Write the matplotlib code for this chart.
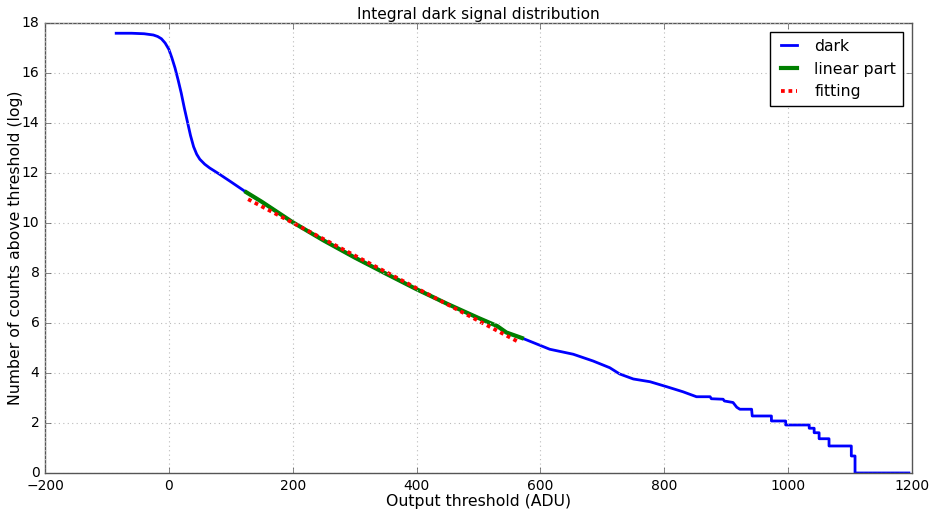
import matplotlib
matplotlib.use("Agg")
import matplotlib.pyplot as plt

# dark signal: threshold (ADU) vs log of counts above threshold
dark_x = [-85, -60, -40, -25, -18, -12, -6, 0, 5, 10, 15, 20, 25, 30, 35, 40,
          45, 50, 58, 66, 80, 100, 125, 150, 200, 250, 300, 350, 400, 450,
          500, 530, 545, 570, 600, 615, 653, 685, 712, 728, 750, 777, 804,
          830, 852, 874, 876, 895, 897, 911, 917, 922, 941, 942, 973, 973,
          996, 996, 1034, 1034, 1042, 1042, 1050, 1050, 1066, 1066, 1102,
          1102, 1108, 1108, 1195]
dark_y = [17.59, 17.59, 17.57, 17.52, 17.46, 17.37, 17.2, 16.95, 16.6, 16.2,
          15.72, 15.2, 14.6, 14.05, 13.5, 13.05, 12.75, 12.55, 12.35, 12.2,
          11.98, 11.65, 11.23, 10.85, 10.03, 9.3, 8.62, 7.98, 7.35, 6.76,
          6.2, 5.88, 5.62, 5.4, 5.1, 4.95, 4.75, 4.48, 4.21, 3.96, 3.76,
          3.65, 3.45, 3.25, 3.05, 3.05, 2.97, 2.95, 2.88, 2.82, 2.63, 2.55,
          2.55, 2.28, 2.28, 2.08, 2.08, 1.92, 1.92, 1.79, 1.79, 1.61, 1.61,
          1.37, 1.37, 1.08, 1.08, 0.68, 0.68, 0.0, 0.0]

# linear part of the dark curve
lin_x = [125, 150, 200, 250, 300, 350, 400, 450, 500, 530, 545, 570]
lin_y = [11.23, 10.85, 10.03, 9.3, 8.62, 7.98, 7.35, 6.76, 6.2, 5.88, 5.62, 5.4]

# straight line fit
fit_x = [128, 564]
fit_y = [10.95, 5.25]

plt.style.use("classic")
plt.rcParams["lines.scale_dashes"] = True
fig = plt.figure(figsize=(9.33, 5.11), dpi=100, facecolor="white")
ax = fig.add_axes([0.0482, 0.0744, 0.9293, 0.8806])

ax.plot(dark_x, dark_y, color="blue", lw=2, label="dark")
ax.plot(lin_x, lin_y, color="green", lw=3, label="linear part")
ax.plot(fit_x, fit_y, color="red", lw=2.7, ls=(0, (1, 1)),
        dash_capstyle="butt", label="fitting")

ax.set_xlim(-200, 1200)
ax.set_ylim(0, 18)
ax.set_xticks(range(-200, 1201, 200))
ax.set_yticks(range(0, 19, 2))
ax.tick_params(labelsize=10, direction="in", color="#555555")
for s in ax.spines.values():
    s.set_color("#555555")
ax.grid(True, color="#bbbbbb", ls=":", lw=0.8)

ax.set_title("Integral dark signal distribution", fontsize=11.1, pad=3)
ax.set_xlabel("Output threshold (ADU)", fontsize=11.3, labelpad=1)
ax.set_ylabel("Number of counts above threshold (log)", fontsize=11.3,
              labelpad=-1)
ax.legend(loc="upper right", fontsize=11.3, handlelength=1.6,
          borderaxespad=0.6)

fig.savefig("out.png", dpi=100, facecolor="white")
